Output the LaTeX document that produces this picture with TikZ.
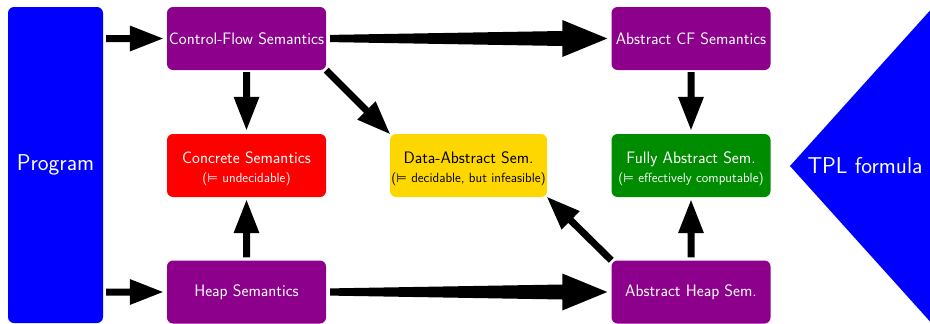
\documentclass[tikz,border=0pt]{standalone}
\usepackage{fontspec}
\newfontfamily\symfont{DejaVu Sans}
\usetikzlibrary{calc}

\definecolor{semviolet}{RGB}{140,0,140}
\definecolor{semred}{RGB}{255,0,0}
\definecolor{semgold}{RGB}{255,215,0}
\definecolor{semgreen}{RGB}{0,140,0}
\definecolor{semblue}{RGB}{0,0,255}

\newcommand\mainsize{\fontsize{16.6}{19}\selectfont}
\newcommand\subsize{\fontsize{13.3}{15}\selectfont}
\newcommand\bigsize{\fontsize{22.9}{26}\selectfont}
\newcommand\entails{{\symfont\fontsize{12.2}{14}\selectfont ⊨}}
% first line of a two-line box, with a taller strut
\newcommand\headline[1]{\rule{0pt}{18pt}#1}

% Filled arrow from #1 to #2:
% #3 gap at tail, #4 gap at tip, #5 half width of shaft at tail,
% #6 half width of shaft at head, #7 half width of head, #8 head length
\newcommand\arrowbody[8]{%
  \coordinate (aS) at ($(#1)!#3!(#2)$);
  \coordinate (aE) at ($(#2)!#4!(#1)$);
  \coordinate (aH) at ($(aE)!#8!(aS)$);
  \fill[black] ($(aS)!#5!90:(aE)$) -- ($(aH)!#6!90:(aE)$) -- ($(aH)!#7!90:(aE)$) -- (aE)
    -- ($(aH)!#7!-90:(aE)$) -- ($(aH)!#6!-90:(aE)$) -- ($(aS)!#5!-90:(aE)$) -- cycle;
}
\newcommand\shortarrow[4]{\arrowbody{#1}{#2}{#3}{#4}{3.5pt}{3.5pt}{13pt}{33pt}}
\newcommand\longarrow[2]{\arrowbody{#1}{#2}{4pt}{4pt}{3.6pt}{7.5pt}{18.5pt}{45pt}}

\begin{document}
\begin{tikzpicture}[x=1pt,y=-1pt,
  sem/.style={rounded corners=6pt, minimum width=159pt, minimum height=63pt,
    inner sep=0pt, font=\sffamily\mainsize, text=white, align=center},
  side/.style={rounded corners=6pt, fill=semblue, text=white,
    font=\sffamily\bigsize, inner sep=0pt}]

\useasboundingbox (0,0) rectangle (930,324);
\clip (0,0) rectangle (930,324);

% input and formula
\node[side, minimum width=95pt, minimum height=316pt] (prog) at (55.5,165) {\raisebox{-2pt}{Program}};
\fill[semblue] (790,166) -- (962,-25) -- (962,357) -- cycle;
\node[font=\sffamily\bigsize, text=white, inner sep=0pt] (tpl) at (865,166) {TPL formula};

% semantics boxes
\node[sem, fill=semviolet] (cf)    at (246.5,38.5) {Control-Flow Semantics};
\node[sem, fill=semred]    (conc)  at (246.5,165.5)
  {\headline{Concrete Semantics}\\[0.5pt]{\subsize(\entails\ undecidable)}};
\node[sem, fill=semviolet] (heap)  at (246.5,292) {Heap Semantics};
\node[sem, fill=semgold, text=black, minimum width=157pt] (data) at (468.5,165.5)
  {\headline{Data-Abstract Sem.}\\[0.5pt]{\subsize(\entails\ decidable, but infeasible)}};
\node[sem, fill=semviolet] (acf)   at (691,38.5) {Abstract CF Semantics};
\node[sem, fill=semgreen]  (fully) at (691,165.5)
  {\headline{Fully Abstract Sem.}\\[0.5pt]{\subsize(\entails\ effectively computable)}};
\node[sem, fill=semviolet] (aheap) at (691,292) {Abstract Heap Sem.};

% connectors
\coordinate (pcf) at (prog.east |- cf.west);
\coordinate (pheap) at (prog.east |- heap.west);
\shortarrow{pcf}{cf.west}{3pt}{4pt}
\shortarrow{pheap}{heap.west}{3pt}{4pt}
\shortarrow{cf.south}{conc.north}{2pt}{4pt}
\shortarrow{heap.north}{conc.south}{3pt}{3pt}
\shortarrow{cf.south east}{data.north west}{0pt}{0pt}
\shortarrow{aheap.north west}{data.south east}{0pt}{0pt}
\shortarrow{acf.south}{fully.north}{2pt}{4pt}
\shortarrow{aheap.north}{fully.south}{3pt}{3pt}
\longarrow{cf.east}{acf.west}
\longarrow{heap.east}{aheap.west}

\end{tikzpicture}
\end{document}
